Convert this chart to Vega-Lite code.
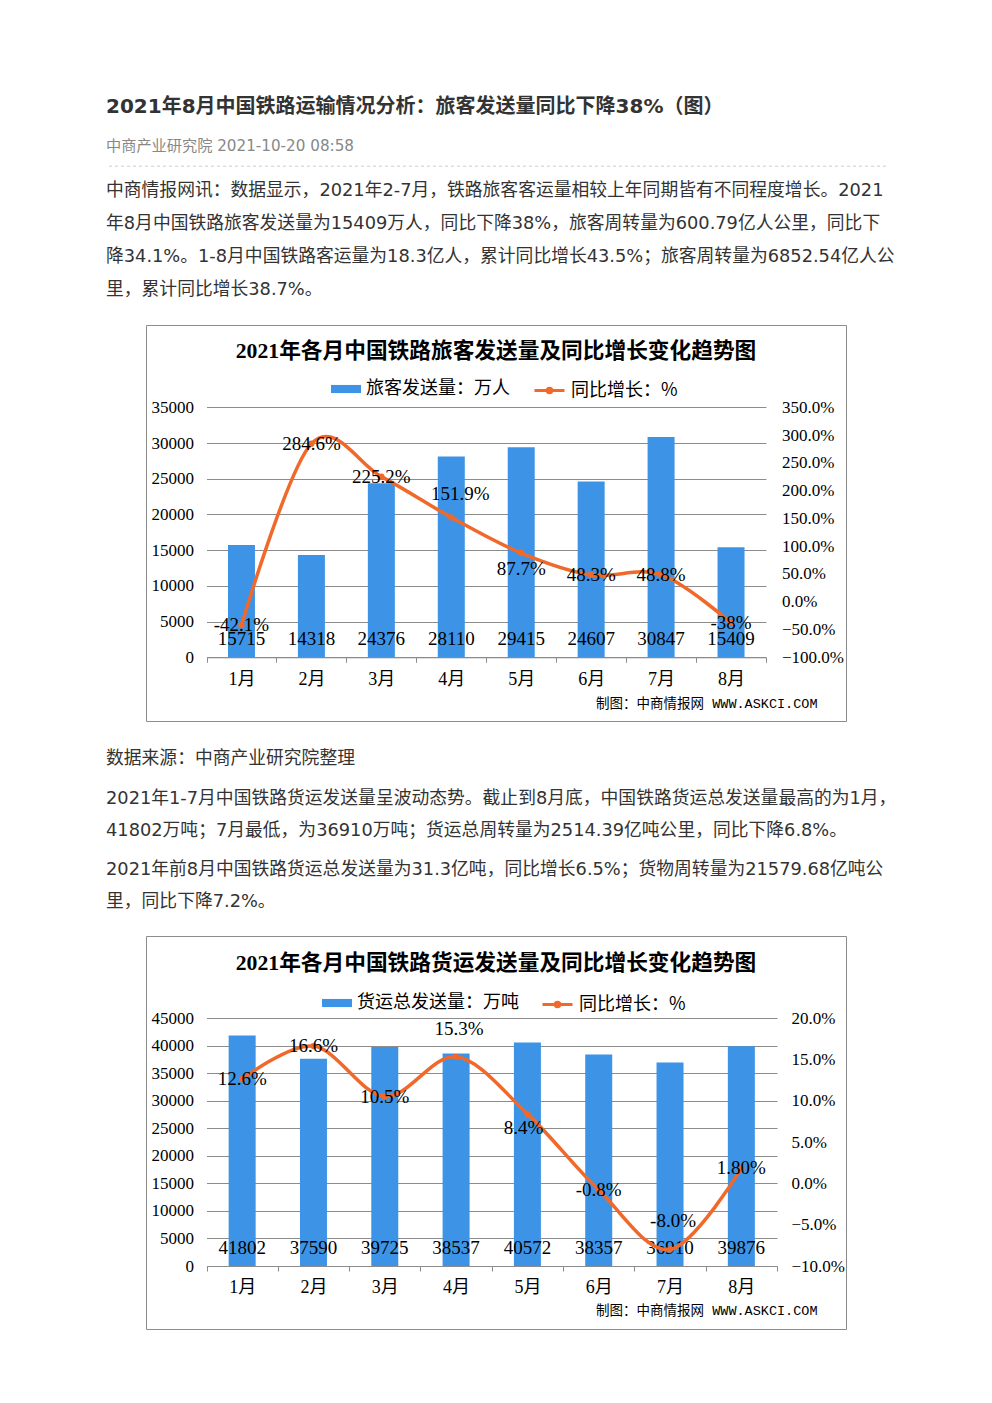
{
  "$schema": "https://vega.github.io/schema/vega-lite/v6.json",
  "background": "#ffffff",
  "padding": {"left": 105, "right": 107, "top": 95, "bottom": 74},
  "spacing": 0,
  "center": true,
  "bounds": "flush",
  "resolve": {"scale": {"fill": "independent", "stroke": "independent"}},
  "config": {
    "view": {"stroke": null},
    "text": {"font": "DejaVu Sans, Noto Sans CJK SC"},
    "axis": {"labelFont": "Liberation Serif, Noto Sans CJK SC", "labelColor": "#000000"}
  },
  "vconcat": [
    {
      "width": 780,
      "height": 20,
      "data": {"values": [{"text": "2021年8月中国铁路运输情况分析：旅客发送量同比下降38%（图）"}]},
      "mark": {"type": "text", "align": "left", "baseline": "middle", "dy": 2, "fontSize": 20, "fontWeight": "bold", "color": "#333333"},
      "encoding": {
        "x": {"datum": 0, "type": "quantitative", "scale": {"domain": [0, 1]}, "axis": null},
        "text": {"field": "text"}
      }
    },
    {
      "width": 780,
      "height": 58,
      "encoding": {
        "y": {"field": "kind", "type": "ordinal", "axis": null, "scale": {"domain": ["meta", "rule"], "padding": 0.6154, "align": 0.906}}
      },
      "layer": [
        {
          "data": {"values": [{"kind": "meta", "text": "中商产业研究院 2021-10-20 08:58"}]},
          "mark": {"type": "text", "align": "left", "baseline": "middle", "dy": 2, "fontSize": 15.2, "color": "#888888"},
          "encoding": {
            "x": {"datum": 0, "type": "quantitative", "scale": {"domain": [0, 1]}, "axis": null},
            "text": {"field": "text"}
          }
        },
        {
          "data": {"values": [{"kind": "rule"}]},
          "mark": {"type": "rule", "color": "#cccccc", "strokeWidth": 1, "strokeDash": [3, 3]},
          "encoding": {}
        }
      ]
    },
    {
      "width": 780,
      "height": 152,
      "data": {"values": [
        {"line": 1, "text": "中商情报网讯：数据显示，2021年2-7月，铁路旅客客运量相较上年同期皆有不同程度增长。2021"},
        {"line": 2, "text": "年8月中国铁路旅客发送量为15409万人，同比下降38%，旅客周转量为600.79亿人公里，同比下"},
        {"line": 3, "text": "降34.1%。1-8月中国铁路客运量为18.3亿人，累计同比增长43.5%；旅客周转量为6852.54亿人公"},
        {"line": 4, "text": "里，累计同比增长38.7%。"}
      ]},
      "mark": {"type": "text", "align": "left", "baseline": "middle", "dy": 2, "fontSize": 17.8, "color": "#333333"},
      "encoding": {
        "x": {"datum": 0, "type": "quantitative", "scale": {"domain": [0, 1]}, "axis": null},
        "y": {"field": "line", "type": "ordinal", "axis": null, "scale": {"padding": 0.803, "align": 0.311}},
        "text": {"field": "text"}
      }
    },
    {
      "width": 700,
      "height": 396,
      "view": {"stroke": "#8c8c8c", "strokeWidth": 1},
      "title": {
        "text": "2021年各月中国铁路旅客发送量及同比增长变化趋势图",
        "font": "Liberation Serif, Noto Sans CJK SC", "fontSize": 21.7, "fontWeight": "bold", "color": "#000000",
        "baseline": "middle", "offset": -26, "dy": 22, "anchor": "middle", "frame": "group"
      },
      "data": {"values": [
        {"month": "1月", "passengers": 15715, "yoy": -42.1, "yoyLabel": "-42.1%"},
        {"month": "2月", "passengers": 14318, "yoy": 284.6, "yoyLabel": "284.6%"},
        {"month": "3月", "passengers": 24376, "yoy": 225.2, "yoyLabel": "225.2%"},
        {"month": "4月", "passengers": 28110, "yoy": 151.9, "yoyLabel": "151.9%"},
        {"month": "5月", "passengers": 29415, "yoy": 87.7, "yoyLabel": "87.7%"},
        {"month": "6月", "passengers": 24607, "yoy": 48.3, "yoyLabel": "48.3%"},
        {"month": "7月", "passengers": 30847, "yoy": 48.8, "yoyLabel": "48.8%"},
        {"month": "8月", "passengers": 15409, "yoy": -38, "yoyLabel": "-38%"}
      ]},
      "encoding": {
        "x": {
          "field": "month", "type": "ordinal", "sort": null,
          "scale": {"range": [60.5, 620], "paddingInner": 0, "paddingOuter": 0},
          "axis": {
            "orient": "bottom", "offset": -63.7, "domainColor": "#8c8c8c", "tickColor": "#8c8c8c", "tickSize": 5,
            "tickBand": "extent", "labelAngle": 0, "labelFontSize": 18, "labelBaseline": "middle", "labelPadding": 17,
            "grid": false,
            "title": "制图：中商情报网 WWW.ASKCI.COM",
            "titleFont": "Liberation Mono, Noto Sans CJK SC", "titleFontSize": 13.5, "titleFontWeight": "normal", "titleColor": "#000000",
            "titleX": 671, "titleY": 46, "titleAlign": "right", "titleBaseline": "middle"
          }
        }
      },
      "layer": [
        {
          "encoding": {
            "y": {
              "field": "passengers", "type": "quantitative",
              "scale": {"domain": [0, 35000], "range": [332.3, 82.3], "nice": false},
              "axis": {
                "orient": "left", "offset": -60.5, "values": [0, 5000, 10000, 15000, 20000, 25000, 30000, 35000], "format": "d",
                "domain": false, "ticks": false, "tickSize": 0, "labelPadding": 13, "labelFontSize": 17,
                "grid": true, "gridColor": "#8c8c8c", "gridWidth": 1, "title": null
              }
            }
          },
          "layer": [
            {
              "mark": {"type": "bar", "width": 27},
              "encoding": {
                "fill": {
                  "datum": "旅客发送量：万人",
                  "scale": {"range": ["#3d94e6"]},
                  "legend": {
                    "orient": "none", "legendX": 185, "legendY": 49, "title": null, "padding": 0,
                    "symbolType": "M-1,-0.27L1,-0.27L1,0.27L-1,0.27Z", "symbolSize": 900, "symbolStrokeWidth": 0,
                    "labelFont": "Noto Sans CJK SC", "labelFontSize": 18, "labelColor": "#000000", "labelOffset": 5, "labelLimit": 300
                  }
                }
              }
            },
            {
              "mark": {"type": "text", "font": "Liberation Serif", "fontSize": 19, "baseline": "middle", "dy": -18, "color": "#000000"},
              "encoding": {
                "y": {
                  "datum": 0, "type": "quantitative",
                  "axis": {
                    "orient": "left", "offset": -60.5, "values": [0, 5000, 10000, 15000, 20000, 25000, 30000, 35000], "format": "d",
                    "domain": false, "ticks": false, "tickSize": 0, "labelPadding": 13, "labelFontSize": 17,
                    "grid": true, "gridColor": "#8c8c8c", "gridWidth": 1, "title": null
                  }
                },
                "text": {"field": "passengers", "type": "quantitative", "format": "d"}
              }
            }
          ]
        },
        {
          "encoding": {
            "y": {
              "field": "yoy", "type": "quantitative",
              "scale": {"domain": [-100, 350], "range": [332.3, 82.3], "nice": false, "zero": false},
              "axis": {
                "orient": "right", "offset": -80, "values": [-100, -50, 0, 50, 100, 150, 200, 250, 300, 350],
                "labelExpr": "format(datum.value, '.1f') + '%'",
                "domain": false, "ticks": false, "tickSize": 0, "labelPadding": 15.5, "labelFontSize": 17,
                "grid": false, "title": null
              }
            }
          },
          "layer": [
            {
              "mark": {"type": "line", "interpolate": "cardinal", "tension": 0, "strokeWidth": 3.5},
              "encoding": {
                "stroke": {
                  "datum": "同比增长：%",
                  "scale": {"range": ["#f0692a"]},
                  "legend": {
                    "orient": "none", "legendX": 387, "legendY": 49, "title": null, "padding": 0,
                    "symbolType": "M-1,0L1,0M0.15,0A0.15,0.15,0,1,1,-0.15,0A0.15,0.15,0,1,1,0.15,0Z",
                    "symbolSize": 900, "symbolStrokeWidth": 3, "symbolFillColor": "#f0692a",
                    "labelFont": "Noto Sans CJK SC", "labelFontSize": 18, "labelColor": "#000000", "labelOffset": 5, "labelLimit": 300
                  }
                }
              }
            },
            {
              "mark": {"type": "circle", "size": 40, "color": "#f0692a", "opacity": 1}
            },
            {
              "transform": [{"filter": {"not": {"field": "month", "oneOf": ["4月", "5月"]}}}],
              "mark": {"type": "text", "font": "Liberation Serif", "fontSize": 19, "baseline": "middle", "color": "#000000"},
              "encoding": {"text": {"field": "yoyLabel"}}
            },
            {
              "transform": [{"filter": {"field": "month", "oneOf": ["4月"]}}],
              "mark": {"type": "text", "font": "Liberation Serif", "fontSize": 19, "baseline": "middle", "dy": -23, "dx": 9, "color": "#000000"},
              "encoding": {"text": {"field": "yoyLabel"}}
            },
            {
              "transform": [{"filter": {"field": "month", "oneOf": ["5月"]}}],
              "mark": {"type": "text", "font": "Liberation Serif", "fontSize": 19, "baseline": "middle", "dy": 16, "color": "#000000"},
              "encoding": {"text": {"field": "yoyLabel"}}
            }
          ]
        }
      ],
      "resolve": {"scale": {"y": "independent"}}
    },
    {
      "width": 780,
      "height": 60,
      "data": {"values": [{"line": 1, "text": "数据来源：中商产业研究院整理"}]},
      "mark": {"type": "text", "align": "left", "baseline": "middle", "dy": 2, "fontSize": 17.8, "color": "#333333"},
      "encoding": {
        "x": {"datum": 0, "type": "quantitative", "scale": {"domain": [0, 1]}, "axis": null},
        "y": {"field": "line", "type": "ordinal", "axis": null, "scale": {"padding": 0.4, "align": 0.6}},
        "text": {"field": "text"}
      }
    },
    {
      "width": 780,
      "height": 64,
      "data": {"values": [
        {"line": 1, "text": "2021年1-7月中国铁路货运发送量呈波动态势。截止到8月底，中国铁路货运总发送量最高的为1月，"},
        {"line": 2, "text": "41802万吨；7月最低，为36910万吨；货运总周转量为2514.39亿吨公里，同比下降6.8%。"}
      ]},
      "mark": {"type": "text", "align": "left", "baseline": "middle", "dy": 2, "fontSize": 17.8, "color": "#333333"},
      "encoding": {
        "x": {"datum": 0, "type": "quantitative", "scale": {"domain": [0, 1]}, "axis": null},
        "y": {"field": "line", "type": "ordinal", "axis": null, "scale": {"padding": 0.5, "align": 0.5}},
        "text": {"field": "text"}
      }
    },
    {
      "width": 780,
      "height": 91,
      "data": {"values": [
        {"line": 1, "text": "2021年前8月中国铁路货运总发送量为31.3亿吨，同比增长6.5%；货物周转量为21579.68亿吨公"},
        {"line": 2, "text": "里，同比下降7.2%。"}
      ]},
      "mark": {"type": "text", "align": "left", "baseline": "middle", "dy": 2, "fontSize": 17.8, "color": "#333333"},
      "encoding": {
        "x": {"datum": 0, "type": "quantitative", "scale": {"domain": [0, 1]}, "axis": null},
        "y": {"field": "line", "type": "ordinal", "axis": null, "scale": {"padding": 0.9219, "align": 0.3898}},
        "text": {"field": "text"}
      }
    },
    {
      "width": 700,
      "height": 393,
      "view": {"stroke": "#8c8c8c", "strokeWidth": 1},
      "title": {
        "text": "2021年各月中国铁路货运发送量及同比增长变化趋势图",
        "font": "Liberation Serif, Noto Sans CJK SC", "fontSize": 21.7, "fontWeight": "bold", "color": "#000000",
        "baseline": "middle", "offset": -27, "dy": 22, "anchor": "middle", "frame": "group"
      },
      "data": {"values": [
        {"month": "1月", "freight": 41802, "yoy": 12.6, "yoyLabel": "12.6%"},
        {"month": "2月", "freight": 37590, "yoy": 16.6, "yoyLabel": "16.6%"},
        {"month": "3月", "freight": 39725, "yoy": 10.5, "yoyLabel": "10.5%"},
        {"month": "4月", "freight": 38537, "yoy": 15.3, "yoyLabel": "15.3%"},
        {"month": "5月", "freight": 40572, "yoy": 8.4, "yoyLabel": "8.4%"},
        {"month": "6月", "freight": 38357, "yoy": -0.8, "yoyLabel": "-0.8%"},
        {"month": "7月", "freight": 36910, "yoy": -8.0, "yoyLabel": "-8.0%"},
        {"month": "8月", "freight": 39876, "yoy": 1.8, "yoyLabel": "1.80%"}
      ]},
      "encoding": {
        "x": {
          "field": "month", "type": "ordinal", "sort": null,
          "scale": {"range": [60.5, 631], "paddingInner": 0, "paddingOuter": 0},
          "axis": {
            "orient": "bottom", "offset": -63, "domainColor": "#8c8c8c", "tickColor": "#8c8c8c", "tickSize": 5,
            "tickBand": "extent", "labelAngle": 0, "labelFontSize": 18, "labelBaseline": "middle", "labelPadding": 16,
            "grid": false,
            "title": "制图：中商情报网 WWW.ASKCI.COM",
            "titleFont": "Liberation Mono, Noto Sans CJK SC", "titleFontSize": 13.5, "titleFontWeight": "normal", "titleColor": "#000000",
            "titleX": 671, "titleY": 44, "titleAlign": "right", "titleBaseline": "middle"
          }
        }
      },
      "layer": [
        {
          "encoding": {
            "y": {
              "field": "freight", "type": "quantitative",
              "scale": {"domain": [0, 45000], "range": [330, 82], "nice": false},
              "axis": {
                "orient": "left", "offset": -60.5, "values": [0, 5000, 10000, 15000, 20000, 25000, 30000, 35000, 40000, 45000], "format": "d",
                "domain": false, "ticks": false, "tickSize": 0, "labelPadding": 13, "labelFontSize": 17,
                "grid": true, "gridColor": "#8c8c8c", "gridWidth": 1, "title": null
              }
            }
          },
          "layer": [
            {
              "mark": {"type": "bar", "width": 27},
              "encoding": {
                "fill": {
                  "datum": "货运总发送量：万吨",
                  "scale": {"range": ["#3d94e6"]},
                  "legend": {
                    "orient": "none", "legendX": 176, "legendY": 52, "title": null, "padding": 0,
                    "symbolType": "M-1,-0.27L1,-0.27L1,0.27L-1,0.27Z", "symbolSize": 900, "symbolStrokeWidth": 0,
                    "labelFont": "Noto Sans CJK SC", "labelFontSize": 18, "labelColor": "#000000", "labelOffset": 5, "labelLimit": 300
                  }
                }
              }
            },
            {
              "mark": {"type": "text", "font": "Liberation Serif", "fontSize": 19, "baseline": "middle", "dy": -18, "color": "#000000"},
              "encoding": {
                "y": {
                  "datum": 0, "type": "quantitative",
                  "axis": {
                    "orient": "left", "offset": -60.5, "values": [0, 5000, 10000, 15000, 20000, 25000, 30000, 35000, 40000, 45000], "format": "d",
                    "domain": false, "ticks": false, "tickSize": 0, "labelPadding": 13, "labelFontSize": 17,
                    "grid": true, "gridColor": "#8c8c8c", "gridWidth": 1, "title": null
                  }
                },
                "text": {"field": "freight", "type": "quantitative", "format": "d"}
              }
            }
          ]
        },
        {
          "encoding": {
            "y": {
              "field": "yoy", "type": "quantitative",
              "scale": {"domain": [-10, 20], "range": [330, 82], "nice": false, "zero": false},
              "axis": {
                "orient": "right", "offset": -69, "values": [-10, -5, 0, 5, 10, 15, 20],
                "labelExpr": "format(datum.value, '.1f') + '%'",
                "domain": false, "ticks": false, "tickSize": 0, "labelPadding": 14, "labelFontSize": 17,
                "grid": false, "title": null
              }
            }
          },
          "layer": [
            {
              "mark": {"type": "line", "interpolate": "cardinal", "tension": 0, "strokeWidth": 3.5},
              "encoding": {
                "stroke": {
                  "datum": "同比增长：%",
                  "scale": {"range": ["#f0692a"]},
                  "legend": {
                    "orient": "none", "legendX": 395, "legendY": 52, "title": null, "padding": 0,
                    "symbolType": "M-1,0L1,0M0.15,0A0.15,0.15,0,1,1,-0.15,0A0.15,0.15,0,1,1,0.15,0Z",
                    "symbolSize": 900, "symbolStrokeWidth": 3, "symbolFillColor": "#f0692a",
                    "labelFont": "Noto Sans CJK SC", "labelFontSize": 18, "labelColor": "#000000", "labelOffset": 5, "labelLimit": 300
                  }
                }
              }
            },
            {
              "mark": {"type": "circle", "size": 40, "color": "#f0692a", "opacity": 1}
            },
            {
              "transform": [{"filter": {"not": {"field": "month", "oneOf": ["4月", "5月", "7月"]}}}],
              "mark": {"type": "text", "font": "Liberation Serif", "fontSize": 19, "baseline": "middle", "color": "#000000"},
              "encoding": {"text": {"field": "yoyLabel"}}
            },
            {
              "transform": [{"filter": {"field": "month", "oneOf": ["4月", "7月"]}}],
              "mark": {"type": "text", "font": "Liberation Serif", "fontSize": 19, "baseline": "middle", "dy": -28, "dx": 3, "color": "#000000"},
              "encoding": {"text": {"field": "yoyLabel"}}
            },
            {
              "transform": [{"filter": {"field": "month", "oneOf": ["5月"]}}],
              "mark": {"type": "text", "font": "Liberation Serif", "fontSize": 19, "baseline": "middle", "dy": 14, "dx": -4, "color": "#000000"},
              "encoding": {"text": {"field": "yoyLabel"}}
            }
          ]
        }
      ],
      "resolve": {"scale": {"y": "independent"}}
    }
  ]
}
